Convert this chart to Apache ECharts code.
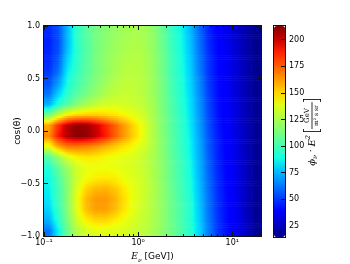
<!DOCTYPE html>
<html><head><meta charset="utf-8">
<script src="https://cdn.jsdelivr.net/npm/echarts@6/dist/echarts.min.js"></script>
<style>html,body{margin:0;padding:0;background:#fff}#c{width:350px;height:264px}</style>
</head><body><div id="c"></div>
<script>
// column centres, log10(E / GeV)
const log10E = [-0.95,-0.85,-0.75,-0.65,-0.55,-0.45,-0.35,-0.25,-0.15,-0.05,0.05,0.15,0.25,0.35,0.45,0.55,0.65,0.75,0.85,0.95,1.05,1.15,1.25];
// row centres, cos(theta), top to bottom
const cosTheta = [0.95,0.85,0.75,0.65,0.55,0.45,0.35,0.25,0.15,0.05,-0.05,-0.15,-0.25,-0.35,-0.45,-0.55,-0.65,-0.75,-0.85,-0.95];
// flux * E^2, one array per cos(theta) row
const rowP095 = [47,55,76,96,105,112,116,120,123,125,124,119,109,97,88,76,60,46,38,33,28,22,17];
const rowP085 = [45,54,76,95,104,112,117,121,124,126,125,120,110,98,89,77,61,47,39,33,28,22,17];
const rowP075 = [46,55,78,94,104,112,118,122,125,127,126,120,111,99,90,78,62,48,39,34,28,22,17];
const rowP065 = [47,58,82,95,105,113,119,123,127,128,127,121,112,100,91,79,63,49,40,34,29,23,17];
const rowP055 = [50,62,86,97,106,113,119,124,128,129,127,121,112,100,91,80,64,49,40,34,29,23,17];
const rowP045 = [55,70,90,100,108,116,122,127,130,130,128,122,113,101,92,81,66,50,41,35,29,23,18];
const rowP035 = [62,80,95,105,113,120,126,130,132,131,128,122,113,102,93,82,67,51,41,35,29,23,18];
const rowP025 = [74,92,105,116,125,131,135,136,135,133,130,124,114,103,94,83,68,52,42,35,30,23,18];
const rowP015 = [110,130,145,150,152,152,150,147,143,139,134,125,115,104,95,84,69,53,42,36,30,24,18];
const rowP005 = [160,185,203,210,208,200,188,175,162,150,139,127,116,105,96,85,70,54,43,36,30,24,18];
const rowM005 = [165,190,205,211,209,201,190,176,163,151,140,127,117,106,97,86,71,55,44,37,31,24,18];
const rowM015 = [140,160,170,170,168,164,158,152,147,142,136,127,117,106,97,87,72,56,45,37,31,24,18];
const rowM025 = [105,122,138,145,147,146,143,141,139,137,132,126,117,107,98,88,73,57,45,38,31,25,18];
const rowM035 = [92,108,122,135,140,141,141,140,138,136,132,126,118,108,99,89,74,58,46,38,32,25,18];
const rowM045 = [88,102,118,134,142,145,146,145,141,137,133,127,118,108,100,90,75,59,47,39,32,25,18];
const rowM055 = [86,100,117,137,150,156,157,153,146,139,134,127,119,109,100,91,76,60,47,39,32,25,18];
const rowM065 = [84,99,117,140,156,163,163,158,148,140,134,127,119,110,101,92,77,61,48,40,33,25,18];
const rowM075 = [80,97,116,139,155,162,162,156,147,139,133,127,119,110,102,93,78,61,48,40,33,25,18];
const rowM085 = [74,93,114,134,145,150,150,146,141,136,131,126,119,111,102,93,79,62,49,40,33,26,18];
const rowM095 = [62,86,110,127,136,139,139,138,136,133,130,125,118,111,103,94,80,63,49,41,33,26,18];
const fluxRows = [rowP095,rowP085,rowP075,rowP065,rowP055,rowP045,rowP035,rowP025,rowP015,rowP005,
                  rowM005,rowM015,rowM025,rowM035,rowM045,rowM055,rowM065,rowM075,rowM085,rowM095];

const xMajorTicks = [0.1, 1, 10];
const xMinorTicks = [0.2,0.3,0.4,0.5,0.6,0.7,0.8,0.9,2,3,4,5,6,7,8,9,20];
const xTickText = {'-1':'10⁻¹','0':'10⁰','1':'10¹'};
const yTicks = [-1,-0.5,0,0.5,1];
const cbTicks = [25,50,75,100,125,150,175,200];
const cbMin = 14.6, cbMax = 213;
const eMin = 0.1, eMax = 20.2;

// matplotlib "jet" colour map segments
const jetR = [[0,0],[0.35,0],[0.66,1],[0.89,1],[1,0.5]];
const jetG = [[0,0],[0.125,0],[0.375,1],[0.64,1],[0.91,0],[1,0]];
const jetB = [[0,0.5],[0.11,1],[0.34,1],[0.65,0],[1,0]];
function seg(s, t) {
  for (let i = 1; i < s.length; i++) if (t <= s[i][0]) {
    const a = s[i-1], b = s[i]; return a[1] + (b[1]-a[1]) * (t-a[0]) / (b[0]-a[0]);
  }
  return s[s.length-1][1];
}
function jetColor(v) {
  const t = Math.max(0, Math.min(1, (v - cbMin) / (cbMax - cbMin)));
  return 'rgb(' + Math.round(255*seg(jetR,t)) + ',' + Math.round(255*seg(jetG,t)) + ',' + Math.round(255*seg(jetB,t)) + ')';
}
const jetStops = [];
for (let i = 0; i <= 16; i++) jetStops.push(jetColor(cbMin + (cbMax - cbMin) * i / 16));

const nC = log10E.length, nR = cosTheta.length;
const heat = [];
fluxRows.forEach((row, r) => row.forEach((v, c) => heat.push([c, nR - 1 - r, v])));

// smooth (gouraud-like) shading between neighbouring measured cells
function cellVal(c, r) {
  c = Math.max(0, Math.min(nC - 1, c)); r = Math.max(0, Math.min(nR - 1, r));
  return fluxRows[r][c];
}
function shade(u, v) {
  const c0 = Math.floor(u), r0 = Math.floor(v), fu = u - c0, fv = v - r0;
  return cellVal(c0, r0) * (1-fu) * (1-fv) + cellVal(c0+1, r0) * fu * (1-fv) +
         cellVal(c0, r0+1) * (1-fu) * fv + cellVal(c0+1, r0+1) * fu * fv;
}
const STRIPS = 5, XSTOPS = 5;
function renderCell(params, api) {
  const c = api.value(0), yc = api.value(1), r = nR - 1 - yc;
  const p = api.coord([c, yc]), sz = api.size([1, 1]);
  const w = sz[0], h = sz[1], x0 = p[0] - w / 2, y0 = p[1] - h / 2;
  const children = [];
  for (let s = 0; s < STRIPS; s++) {
    const v = r - 0.5 + (s + 0.5) / STRIPS;
    const stops = [];
    for (let k = 0; k < XSTOPS; k++) {
      const f = k / (XSTOPS - 1);
      stops.push({offset: f, color: jetColor(shade(c - 0.5 + f, v))});
    }
    children.push({type: 'rect',
      shape: {x: x0 - 0.3, y: y0 + s * h / STRIPS - 0.3, width: w + 0.6, height: h / STRIPS + 0.6},
      style: {fill: {type: 'linear', x: 0, y: 0, x2: 1, y2: 0, colorStops: stops}}});
  }
  return {type: 'group', children: children};
}

// tick marks and frames drawn through the axes' own scales
const xTickData = xMajorTicks.map(v => [v, 4]).concat(xMinorTicks.map(v => [v, 2]));
const yTickData = yTicks.map(v => [1, v]);
const cbTickData = cbTicks.map(v => [0, v]);
const px = x => Math.round(x - 0.5);
function blk(x, y, w, h) { return {type: 'rect', shape: {x: x, y: y, width: w, height: h}, style: {fill: '#111'}, z2: 100}; }
function renderXTick(params, api) {
  const x = px(api.coord([api.value(0), 0])[0]), len = api.value(1);
  const yT = Math.round(api.coord([eMin, 1])[1]), yB = Math.round(api.coord([eMin, -1])[1]);
  return {type: 'group', children: [blk(x, yT, 1, len), blk(x, yB - len, 1, len)]};
}
function renderYTick(params, api) {
  const y = px(api.coord([1, api.value(1)])[1]);
  const xL = Math.round(api.coord([eMin, 0])[0]), xR = Math.round(api.coord([eMax, 0])[0]);
  return {type: 'group', children: [blk(xL, y, 4, 1), blk(xR - 4, y, 4, 1)]};
}
function renderCbTick(params, api) {
  const y = px(api.coord([0, api.value(1)])[1]), xR = Math.round(api.coord([1, cbMin])[0]);
  return blk(xR - 4, y, 4, 1);
}
// frame drawn just outside the clipped data area so nothing can cover it
function boxFrom(p0, p1) {
  const x0 = Math.round(p0[0]) - 1, y0 = Math.round(p0[1]) - 1, x1 = Math.round(p1[0]) + 1, y1 = Math.round(p1[1]) + 1;
  return {type: 'group', children: [blk(x0, y0, x1 - x0, 1), blk(x0, y1 - 1, x1 - x0, 1),
    blk(x0, y0, 1, y1 - y0), blk(x1 - 1, y0, 1, y1 - y0)]};
}
function renderPlotFrame(params, api) { return boxFrom(api.coord([eMin, 1]), api.coord([eMax, -1])); }
function renderCbFrame(params, api) { return boxFrom(api.coord([0, cbMax]), api.coord([1, cbMin])); }

const FF = 'DejaVu Sans';
const txt = {fontFamily: FF, fontSize: 8, color: '#000'};
const noLine = {show: false, onZero: false};

const gridBase = {containLabel: false, outerBoundsMode: 'none'};
const chart = echarts.init(document.getElementById('c'), null, {renderer: 'canvas'});
chart.setOption({
  animation: false,
  backgroundColor: '#fff',
  grid: [
    Object.assign({left: 44, top: 26, width: 217, height: 210}, gridBase),
    Object.assign({left: 44, top: 26, width: 217, height: 210}, gridBase),
    Object.assign({left: 274, top: 26, width: 11, height: 211}, gridBase)
  ],
  xAxis: [
    {type: 'category', gridIndex: 0, data: log10E, show: false},
    {type: 'log', logBase: 10, gridIndex: 1, position: 'bottom', min: eMin, max: eMax, z: 10,
     axisLine: noLine, axisTick: {show: false}, splitLine: {show: false}, minorTick: {show: false},
     axisLabel: Object.assign({show: true, margin: 3, customValues: xMajorTicks,
       formatter: v => xTickText[String(Math.round(Math.log10(v)))] || ''}, txt),
     name: '{i|E}{s|ν}{n| [GeV])}', nameLocation: 'middle', nameGap: 15, nameMoveOverlap: false,
     nameTextStyle: {fontFamily: FF, fontSize: 9, color: '#000', rich: {
       i: {fontFamily: 'DejaVu Serif', fontStyle: 'italic', fontSize: 9, color: '#000', lineHeight: 12, verticalAlign: 'middle'},
       s: {fontFamily: 'DejaVu Serif', fontStyle: 'italic', fontSize: 6, color: '#000', lineHeight: 12, verticalAlign: 'bottom'},
       n: {fontFamily: FF, fontSize: 9, color: '#000', lineHeight: 12, verticalAlign: 'middle'}}}},
    {type: 'value', gridIndex: 2, show: false, min: 0, max: 1}
  ],
  yAxis: [
    {type: 'category', gridIndex: 0, data: cosTheta.slice().reverse(), show: false},
    {type: 'value', gridIndex: 1, position: 'left', min: -1, max: 1, interval: 0.5, z: 10,
     axisLine: noLine, axisTick: {show: false},
     axisLabel: Object.assign({margin: 4, formatter: v => (v < 0 ? '−' : '') + Math.abs(v).toFixed(1)}, txt),
     splitLine: {show: false},
     name: 'cos(θ)', nameLocation: 'middle', nameGap: 22, nameRotate: 90, nameMoveOverlap: false,
     nameTextStyle: {fontFamily: FF, fontSize: 9, color: '#000'}},
    {type: 'value', gridIndex: 2, position: 'right', min: cbMin, max: cbMax, z: 10,
     axisLine: noLine, axisTick: {show: false},
     axisLabel: Object.assign({margin: 4, customValues: cbTicks}, txt),
     splitLine: {show: false}}
  ],
  visualMap: {
    type: 'continuous', min: cbMin, max: cbMax, seriesIndex: 0, orient: 'vertical',
    left: 274, top: 26, itemWidth: 11, itemHeight: 211, padding: 0, z: 4,
    calculable: false, hoverLink: false, inRange: {color: jetStops}, text: null, showLabel: false
  },
  series: [
    {type: 'custom', xAxisIndex: 0, yAxisIndex: 0, data: heat, clip: true, z: 2, renderItem: renderCell, silent: true},
    {type: 'custom', xAxisIndex: 1, yAxisIndex: 1, data: [[1, 0]], z: 20, renderItem: renderPlotFrame, silent: true},
    {type: 'custom', xAxisIndex: 1, yAxisIndex: 1, data: xTickData, z: 20, renderItem: renderXTick, silent: true},
    {type: 'custom', xAxisIndex: 1, yAxisIndex: 1, data: yTickData, z: 20, renderItem: renderYTick, silent: true},
    {type: 'custom', xAxisIndex: 2, yAxisIndex: 2, data: [[0, cbMin]], z: 20, renderItem: renderCbFrame, silent: true},
    {type: 'custom', xAxisIndex: 2, yAxisIndex: 2, data: cbTickData, z: 20, renderItem: renderCbTick, silent: true}
  ],
  graphic: [
    {type: 'group', x: 312, y: 133, rotation: Math.PI / 2, z: 100, children: [
      {type: 'text', x: -2, y: 0, style: {
        text: '{i|ϕ}{s|ν}{n| · }{i|E}{p|2}', align: 'right', verticalAlign: 'middle',
        rich: {
          i: {fontFamily: 'DejaVu Serif', fontStyle: 'italic', fontSize: 10, fill: '#000', lineHeight: 14, verticalAlign: 'middle'},
          s: {fontFamily: 'DejaVu Serif', fontStyle: 'italic', fontSize: 6.5, fill: '#000', lineHeight: 14, verticalAlign: 'bottom'},
          p: {fontFamily: 'DejaVu Serif', fontStyle: 'italic', fontSize: 6.5, fill: '#000', lineHeight: 14, verticalAlign: 'top'},
          n: {fontFamily: FF, fontSize: 9, fill: '#000', lineHeight: 14, verticalAlign: 'middle'}
        }}},
      {type: 'rect', shape: {x: 1, y: -9, width: 0.8, height: 18}, style: {fill: '#000'}},
      {type: 'rect', shape: {x: 1, y: -9, width: 3, height: 0.8}, style: {fill: '#000'}},
      {type: 'rect', shape: {x: 1, y: 8.2, width: 3, height: 0.8}, style: {fill: '#000'}},
      {type: 'rect', shape: {x: 33.2, y: -9, width: 0.8, height: 18}, style: {fill: '#000'}},
      {type: 'rect', shape: {x: 31, y: -9, width: 3, height: 0.8}, style: {fill: '#000'}},
      {type: 'rect', shape: {x: 31, y: 8.2, width: 3, height: 0.8}, style: {fill: '#000'}},
      {type: 'rect', shape: {x: 4, y: -0.4, width: 27, height: 0.8}, style: {fill: '#000'}},
      {type: 'text', x: 17.5, y: -1, style: {text: 'GeV', align: 'center', verticalAlign: 'bottom', fontFamily: 'DejaVu Serif', fontSize: 7, fill: '#000'}},
      {type: 'text', x: 17.5, y: 1, style: {text: 'm² s sr', align: 'center', verticalAlign: 'top', fontFamily: 'DejaVu Serif', fontSize: 6, fill: '#000'}}
    ]}
  ]
});
</script></body></html>
